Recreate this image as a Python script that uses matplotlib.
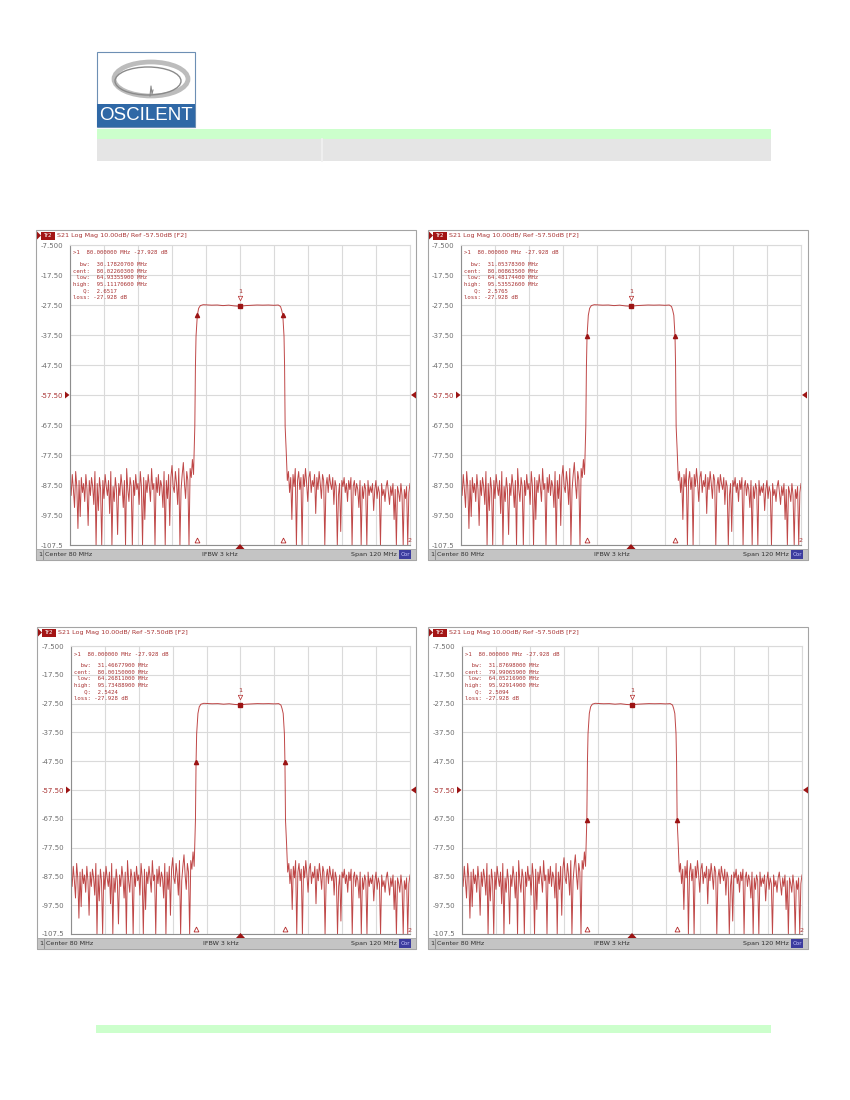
import numpy as np
import matplotlib.pyplot as plt
from matplotlib.patches import Rectangle, Polygon, Ellipse

W, H = 850, 1100

# marker readouts of the four sweeps
bw = [30.17820700, 31.05378300, 31.46677900, 31.87698000]
cent = [80.02260300, 80.00863500, 80.00150000, 79.99065900]
low = [64.93355900, 64.48174400, 64.26811000, 64.05216900]
high = [95.11170600, 95.53552600, 95.73488900, 95.92914900]
q = [2.6517, 2.5765, 2.5424, 2.5094]
loss = -27.928
bw_down = [-3, -10, -20, -40]   # bandwidth search level below loss, dB

# flat top of the passband
top_freq = [65.4, 66.0, 67.0, 68.0, 70.0, 72.0, 74.0, 76.0, 78.0, 80.0,
            82.0, 84.0, 86.0, 88.0, 90.0, 92.0, 93.5, 94.3, 94.7]
top_db = [-28.6, -27.7, -27.4, -27.45, -27.55, -27.5, -27.7, -27.55, -27.8, -27.93,
          -27.7, -27.6, -27.5, -27.55, -27.5, -27.6, -27.5, -28.0, -29.2]

# noise floor outside the passband
left_noise = [-86, -91, -84, -89, -95, -83, -88, -102, -86, -98,
              -85, -90, -87, -93, -84, -89, -101, -86, -91, -85,
              -88, -94, -83, -107.5, -87, -96, -85, -89, -107.5, -86,
              -92, -84, -88, -91, -86, -97, -83, -107.5, -88, -93,
              -85, -89, -104, -87, -91, -84, -88, -95, -86, -107.5,
              -82, -89, -93, -85, -88, -107.5, -86, -91, -84, -89,
              -87, -94, -83, -88, -107.5, -85, -99, -86, -90, -84,
              -88, -93, -82, -89, -87, -107.5, -85, -90, -84, -91,
              -86, -88, -95, -83, -107.5, -86, -92, -84, -101, -85,
              -81, -88, -90, -83, -87, -94, -82, -107.5, -89, -84,
              -80, -87, -92, -83, -86, -107.5, -82, -85, -79, -84]
right_noise = [-76, -86, -83, -90, -85, -99, -84, -88, -82, -107.5,
               -86, -83, -89, -85, -107.5, -84, -88, -82, -87, -93,
               -85, -83, -90, -86, -88, -84, -97, -85, -89, -83,
               -87, -92, -84, -86, -107.5, -88, -85, -90, -84, -87,
               -89, -85, -94, -86, -88, -107.5, -91, -87, -103, -86,
               -88, -85, -90, -87, -93, -86, -89, -85, -107.5, -88,
               -86, -91, -87, -89, -95, -86, -107.5, -88, -92, -87,
               -89, -107.5, -86, -91, -88, -90, -87, -96, -89, -86,
               -92, -88, -90, -107.5, -87, -91, -89, -93, -88, -86,
               -90, -94, -88, -91, -87, -99, -89, -107.5, -88, -90,
               -93, -87, -91, -107.5, -89, -92, -88, -107.5, -90, -87]
left_freq = list(np.linspace(20.0, 63.6, len(left_noise)))
right_freq = list(np.linspace(96.3, 140.0, len(right_noise)))

ytick_vals = [-7.5, -17.5, -27.5, -37.5, -47.5, -57.5, -67.5, -77.5, -87.5, -97.5, -107.5]
ytick_labels = ['-7.500', '-17.50', '-27.50', '-37.50', '-47.50', '-57.50',
                '-67.50', '-77.50', '-87.50', '-97.50', '-107.5']
xgrid = [20, 32, 44, 56, 68, 80, 92, 104, 116, 128, 140]

# panel geometry in pixels: frame left/right, frame top, plot box
panels = [(36, 416, 230, 70, 245, 410, 545),
          (428, 808, 230, 461, 245, 801, 545),
          (37, 416, 627, 71, 646, 410, 934),
          (428, 808, 627, 462, 646, 802, 934)]

RED = '#b42828'
DARK = '#9c1414'
TXT = '#a83232'
FS = 4.6
MONO_FS = 4.1


def frac(x0, y0, x1, y1):
    return [x0 / W, 1 - y1 / H, (x1 - x0) / W, (y1 - y0) / H]


fig = plt.figure(figsize=(8.5, 11), dpi=100)

# the trace: noise, lower skirt, top, upper skirt, noise
trace_f = left_freq + low[::-1] + top_freq + high + right_freq
trace_db = (left_noise + [loss + d for d in bw_down[::-1]] + top_db
            + [loss + d for d in bw_down] + right_noise)

for k, (fl, fr, top, pl, pt, pr, pb) in enumerate(panels):
    ax = fig.add_axes(frac(pl, pt, pr, pb))
    ax.set_xlim(20, 140)
    ax.set_ylim(-107.5, -7.5)
    ax.set_xticks(xgrid)
    ax.set_yticks(ytick_vals)
    ax.set_xticklabels([])
    ax.set_yticklabels(ytick_labels, fontsize=5.0, color='#6e6e6e')
    ax.get_yticklabels()[5].set_color(TXT)
    ax.tick_params(length=0, pad=4.6)
    ax.grid(True, color='#dadada', lw=0.8)
    ax.set_axisbelow(True)
    for s in ['top', 'right']:
        ax.spines[s].set_color('#dadada')
    for s in ['left', 'bottom']:
        ax.spines[s].set_color('#8e8e8e')
        ax.spines[s].set_linewidth(0.8)

    ax.plot(trace_f, trace_db, color=RED, lw=0.7, alpha=0.85)

    lvl = loss + bw_down[k]
    ax.plot([low[k], high[k]], [lvl, lvl], ls='none', marker='^', ms=3,
            color=DARK)
    ax.plot([80], [loss], marker='s', ms=2.2, color=DARK)
    ax.plot([80], [loss + 2.6], marker='v', ms=3.2, mfc='white', mec=RED, mew=0.5)
    ax.text(80, loss + 4.2, '1', fontsize=FS, color=TXT, ha='center', va='bottom')
    ax.plot([low[k], high[k]], [-105.8, -105.8], ls='none', marker='^', ms=3.5,
            mfc='white', mec=RED, mew=0.6, clip_on=False)

# overlay for page furniture and instrument annotations
ov = fig.add_axes([0, 0, 1, 1])
ov.set_xlim(0, W)
ov.set_ylim(H, 0)
ov.axis('off')

# logo
ov.add_patch(Rectangle((97, 52), 98, 75, fc='white', ec='#6d8fb4', lw=0.8))
ov.add_patch(Rectangle((97, 104), 98, 23, fc='#2f68a6', ec='none'))
ov.text(146, 116, 'OSCILENT', color='white', fontsize=13.5, ha='center',
        va='center', family='Liberation Sans')
ov.add_patch(Ellipse((151, 79), 74, 34, fill=False, ec='#bcbcbc', lw=3.4))
ov.add_patch(Ellipse((148, 81), 66, 28, fill=False, ec='#8a8a8a', lw=1.0))
ov.plot([150, 151, 152, 153], [96, 86, 94, 90], color='#8a8a8a', lw=0.8)

# header bars
ov.add_patch(Rectangle((97, 129), 674, 10, fc='#ccffcc', ec='none'))
ov.add_patch(Rectangle((97, 139), 674, 22, fc='#e5e5e5', ec='none'))
ov.plot([322, 322], [139, 161], color='#f2f2f2', lw=1.2)
ov.add_patch(Rectangle((96, 1025), 675, 8, fc='#ccffcc', ec='none'))

for k, (fl, fr, top, pl, pt, pr, pb) in enumerate(panels):
    sb0, sb1 = pb + 4, pb + 15
    ov.add_patch(Rectangle((fl, top), fr - fl, sb1 - top, fill=False,
                           ec='#a4a4a4', lw=0.8))
    # header
    ov.add_patch(Polygon([(fl + 1, top + 1.5), (fl + 1, top + 9.5), (fl + 5, top + 5.5)],
                         fc=DARK, ec='none'))
    ov.add_patch(Rectangle((fl + 5, top + 1.5), 14, 8, fc='#a31515', ec='none'))
    ov.text(fl + 12, top + 5.6, 'Tr2', fontsize=FS - 0.5, color='white',
            ha='center', va='center')
    ov.text(fl + 21, top + 5.6, 'S21 Log Mag 10.00dB/ Ref -57.50dB [F2]',
            fontsize=FS, color=TXT, va='center')

    # marker table
    mono = 'DejaVu Sans Mono'
    ov.text(pl + 3, pt + 8, '>1  80.000000 MHz -27.928 dB', fontsize=MONO_FS,
            color=TXT, va='center', family=mono)
    rows = [('bw:', ' %.8f MHz' % bw[k]),
            ('cent:', ' %.8f MHz' % cent[k]),
            ('low:', ' %.8f MHz' % low[k]),
            ('high:', ' %.8f MHz' % high[k]),
            ('Q:', ' %.4f' % q[k]),
            ('loss:', '%.3f dB' % loss)]
    y = pt + 19.5
    for lab, val in rows:
        ov.text(pl + 3, y, '%5s %s' % (lab, val), fontsize=MONO_FS, color=TXT,
                va='center', family=mono)
        y += 6.6

    # reference position arrows
    ym = (pt + pb) / 2
    ov.add_patch(Polygon([(pl - 5, ym - 3.5), (pl - 5, ym + 3.5), (pl - 0.5, ym)],
                         fc=DARK, ec='none'))
    ov.add_patch(Polygon([(pr + 6, ym - 3.5), (pr + 6, ym + 3.5), (pr + 1, ym)],
                         fc=DARK, ec='none'))
    cx = (pl + pr) / 2
    ov.add_patch(Polygon([(cx - 4.5, pb + 4), (cx + 4.5, pb + 4), (cx, pb - 1)],
                         fc=DARK, ec='none', zorder=5))
    ov.text(pr, pb - 1.5, '2', fontsize=FS, color=TXT, ha='center', va='bottom')

    # status bar
    ov.add_patch(Rectangle((fl, sb0), fr - fl, sb1 - sb0, fc='#c4c4c4', ec='#a4a4a4',
                           lw=0.6))
    ys = (sb0 + sb1) / 2
    ov.text(fl + 2, ys, '1', fontsize=FS, color='#303030', va='center')
    ov.plot([fl + 7, fl + 7], [sb0 + 1, sb1 - 1], color='#888888', lw=0.6)
    ov.text(fl + 9, ys, 'Center 80 MHz', fontsize=FS, color='#303030', va='center')
    ov.text((fl + fr) / 2 - 6, ys, 'IFBW 3 kHz', fontsize=FS, color='#303030',
            va='center', ha='center')
    ov.text(fr - 19, ys, 'Span 120 MHz', fontsize=FS, color='#303030',
            va='center', ha='right')
    ov.add_patch(Rectangle((fr - 17, sb0 + 1), 12, sb1 - sb0 - 2, fc='#3c3c9e', ec='none'))
    ov.text(fr - 11, ys, 'Cor', fontsize=FS - 0.5, color='#c8c8ff', va='center',
            ha='center')

fig.savefig('out.png', dpi=100)
plt.close()
